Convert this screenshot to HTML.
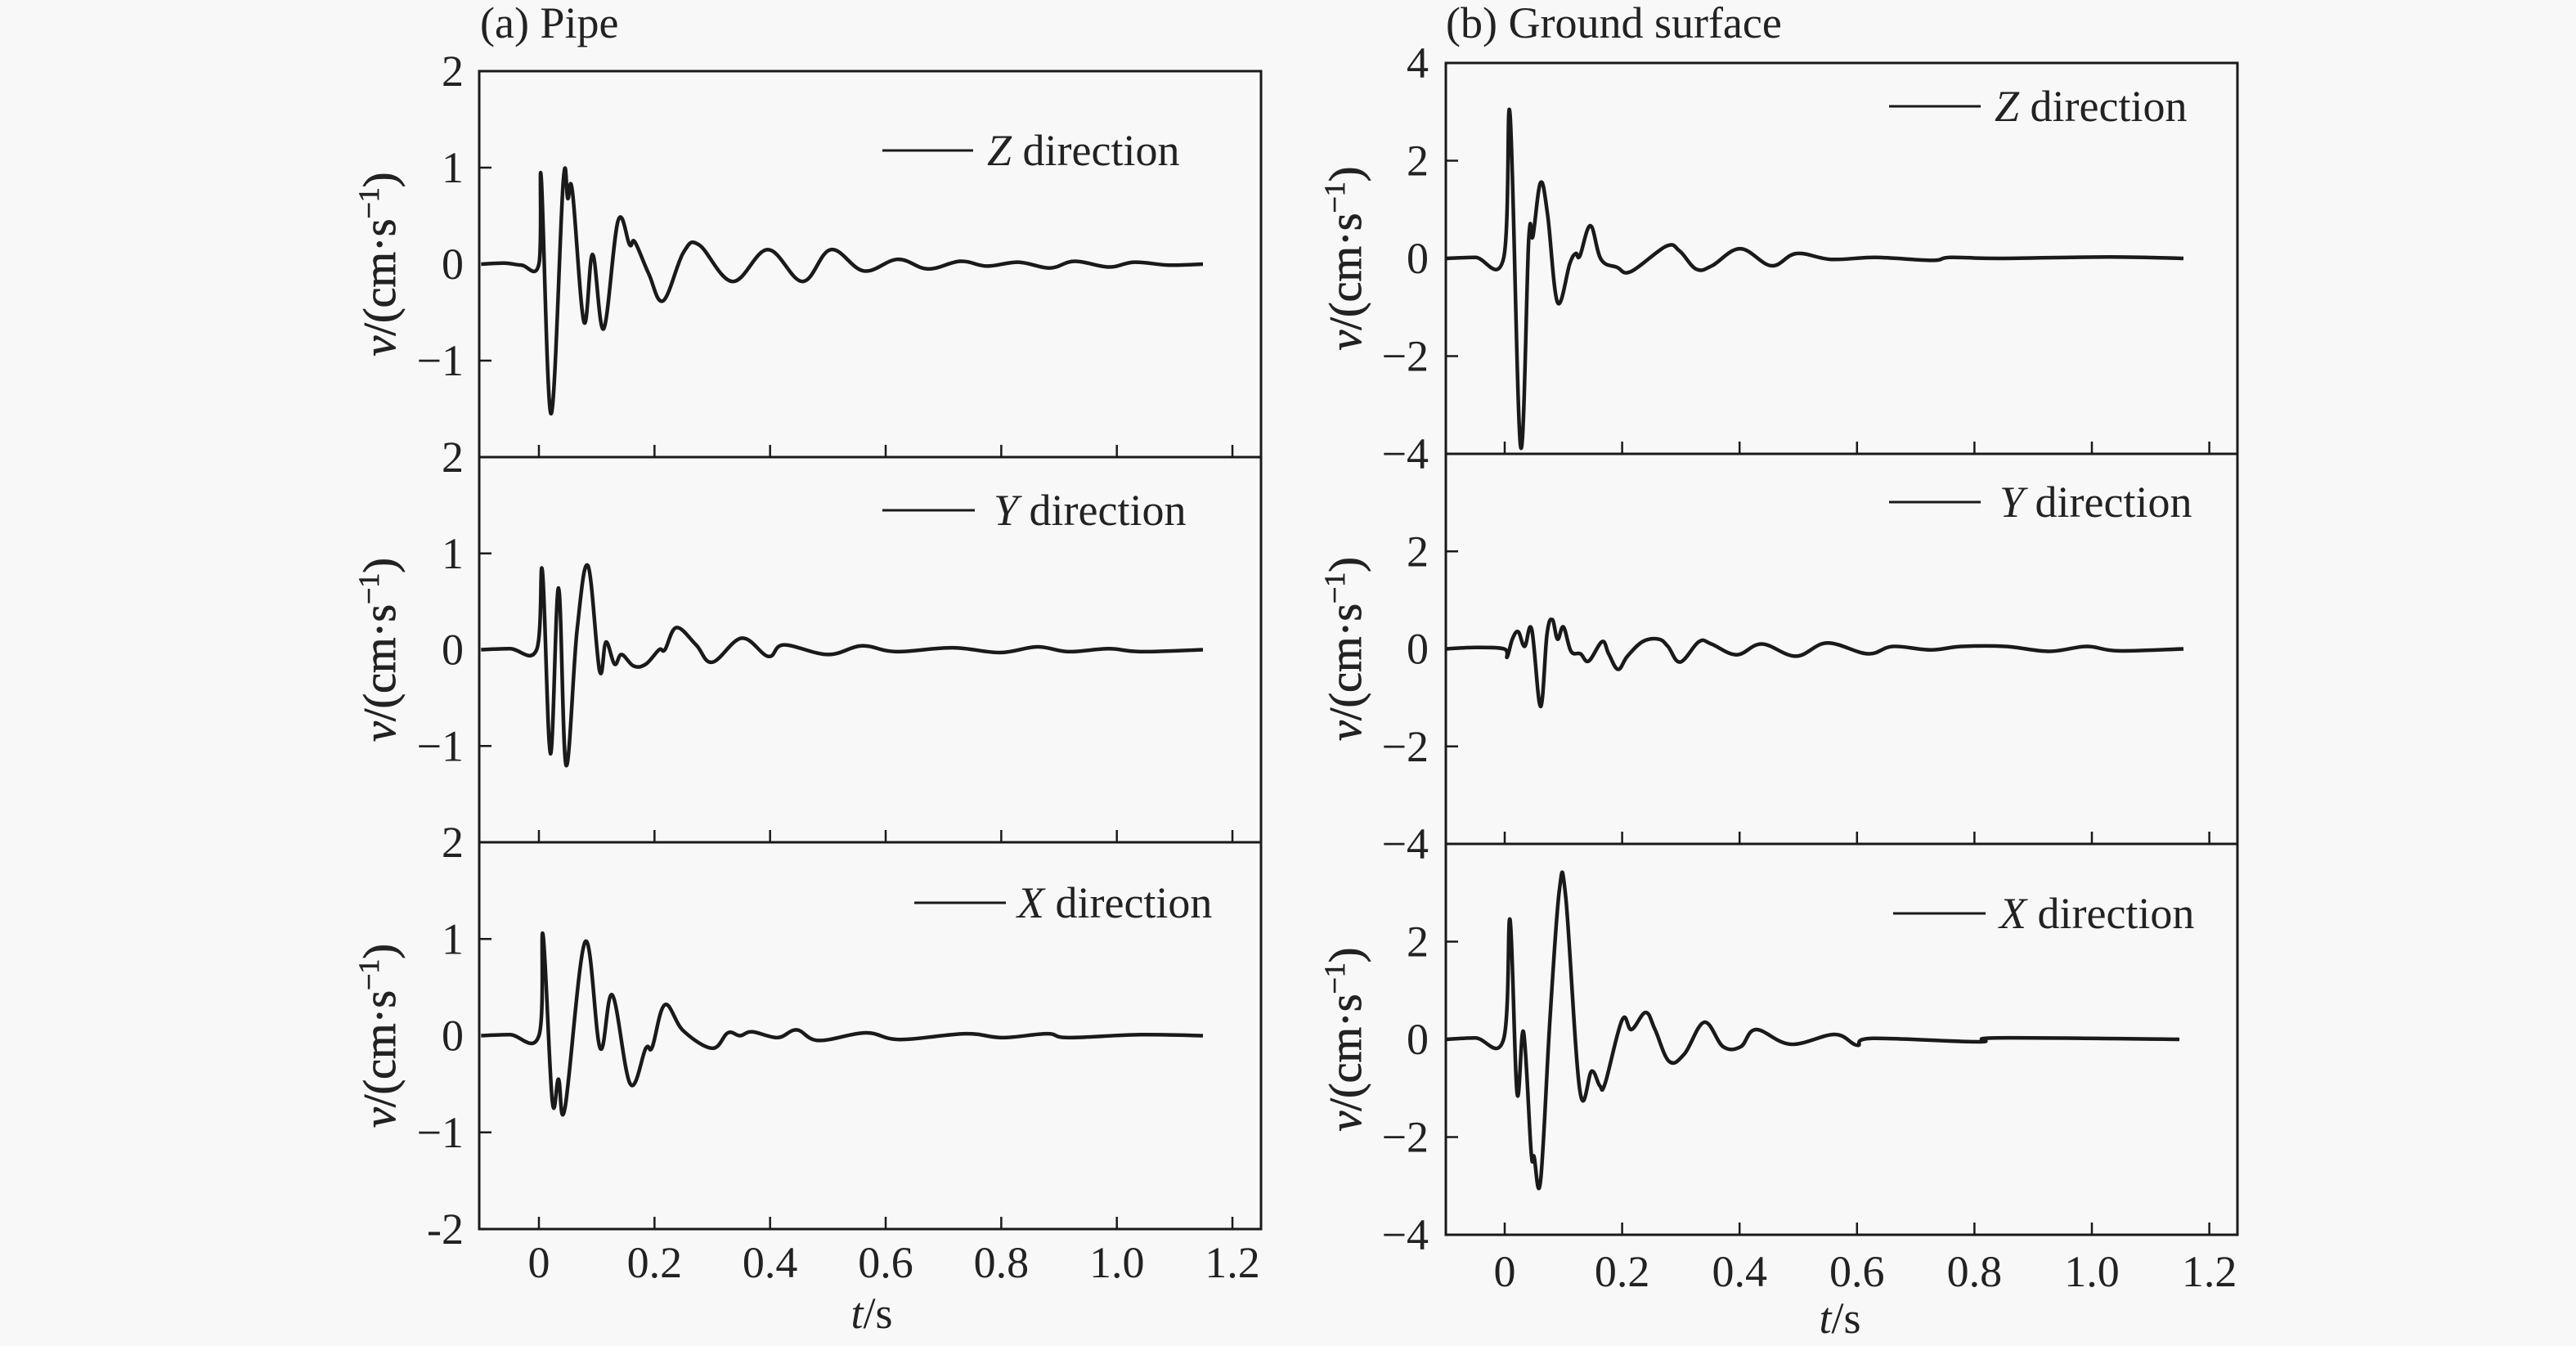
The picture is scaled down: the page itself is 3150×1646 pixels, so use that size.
<!DOCTYPE html>
<html><head><meta charset="utf-8">
<style>
html,body{margin:0;padding:0;background:#f8f8f8;}
svg{display:block;font-family:"Liberation Serif",serif;}
</style></head>
<body>
<svg id="chart" width="3150" height="1646" viewBox="0 0 3150 1646" xmlns="http://www.w3.org/2000/svg">
<rect x="0" y="0" width="3150" height="1646" fill="#f8f8f8"/>
</svg>
<script>
// ---- data (t in s, v in cm/s) ----
const xTicks = [0, 0.2, 0.4, 0.6, 0.8, 1.0, 1.2];
const xTickLabels = ["0", "0.2", "0.4", "0.6", "0.8", "1.0", "1.2"];
const pipeYTicks = [1, 0, -1];
const pipeYTickLabels = ["1", "0", "\u22121"];
const pipeEdgeLabels = ["2", "2", "2", "-2"];
const groundYTicks = [2, 0, -2];
const groundYTickLabels = ["2", "0", "\u22122"];
const groundEdgeLabels = ["4", "\u22124", "\u22124", "\u22124"];

const pipeZ_t = [-0.1,-0.06,-0.03,0.0,0.004,0.021,0.042,0.05,0.058,0.078,0.093,0.112,0.137,0.157,0.166,0.19,0.215,0.25,0.277,0.335,0.396,0.456,0.505,0.562,0.621,0.673,0.729,0.775,0.83,0.884,0.927,0.986,1.03,1.09,1.149];
const pipeZ_v = [0,0.01,-0.01,0,0.9,-1.55,0.85,0.68,0.75,-0.6,0.1,-0.67,0.45,0.2,0.23,-0.1,-0.38,0.12,0.2,-0.18,0.15,-0.18,0.15,-0.07,0.05,-0.05,0.03,-0.02,0.02,-0.04,0.03,-0.03,0.02,-0.01,0];

const pipeY_t = [-0.1,-0.05,-0.004,0.006,0.02,0.034,0.047,0.066,0.085,0.105,0.116,0.131,0.143,0.164,0.185,0.208,0.218,0.238,0.272,0.3,0.351,0.397,0.424,0.5,0.559,0.618,0.716,0.798,0.862,0.916,0.986,1.04,1.149];
const pipeY_v = [0,0.01,0,0.82,-1.08,0.64,-1.2,0.2,0.87,-0.22,0.08,-0.15,-0.05,-0.17,-0.15,0,0,0.23,0.05,-0.13,0.12,-0.07,0.05,-0.05,0.04,-0.02,0.02,-0.03,0.03,-0.02,0.01,-0.02,0];

const pipeX_t = [-0.1,-0.05,0.0,0.007,0.023,0.034,0.045,0.08,0.106,0.127,0.158,0.185,0.196,0.218,0.25,0.3,0.327,0.348,0.369,0.413,0.446,0.484,0.565,0.624,0.737,0.802,0.879,0.916,1.04,1.149];
const pipeX_v = [0,0.01,0,1.05,-0.67,-0.45,-0.75,0.97,-0.13,0.42,-0.5,-0.13,-0.12,0.32,0.05,-0.13,0.03,0,0.04,-0.02,0.06,-0.05,0.03,-0.04,0.02,-0.02,0.02,-0.02,0.01,0];

const groundZ_t = [-0.1,-0.05,-0.002,0.009,0.027,0.041,0.048,0.061,0.073,0.09,0.111,0.121,0.128,0.146,0.164,0.191,0.215,0.275,0.298,0.326,0.353,0.401,0.454,0.497,0.556,0.631,0.727,0.759,0.844,1.03,1.156];
const groundZ_v = [0,0.02,0,2.95,-3.85,0.4,0.45,1.55,0.9,-0.9,-0.1,0.1,0.05,0.67,-0.02,-0.18,-0.27,0.25,0.15,-0.22,-0.15,0.2,-0.15,0.1,-0.02,0.02,-0.04,0.02,0,0.03,0];

const groundY_t = [-0.1,-0.05,-0.001,0.004,0.013,0.023,0.034,0.046,0.061,0.072,0.081,0.09,0.1,0.113,0.129,0.143,0.166,0.177,0.193,0.209,0.235,0.262,0.278,0.299,0.331,0.352,0.395,0.438,0.496,0.549,0.618,0.661,0.725,0.778,0.853,0.927,0.991,1.044,1.156];
const groundY_v = [0,0.03,0,-0.17,0.2,0.35,0.05,0.4,-1.18,0.3,0.6,0.2,0.45,-0.05,-0.1,-0.25,0.15,-0.1,-0.42,-0.15,0.15,0.2,0.05,-0.27,0.15,0.1,-0.12,0.1,-0.15,0.12,-0.1,0.05,-0.02,0.05,0.05,-0.05,0.05,-0.04,0];

const groundX_t = [-0.1,-0.05,-0.002,0.009,0.021,0.032,0.045,0.05,0.061,0.077,0.093,0.104,0.128,0.148,0.162,0.171,0.2,0.216,0.24,0.256,0.28,0.306,0.34,0.372,0.402,0.428,0.487,0.562,0.6,0.626,0.807,0.839,1.149];
const groundX_v = [0,0.03,0,2.45,-1.1,0.15,-2.3,-2.4,-2.9,0.4,3.05,2.9,-1.05,-0.65,-0.95,-0.9,0.4,0.2,0.55,0.2,-0.45,-0.3,0.35,-0.15,-0.15,0.2,-0.1,0.1,-0.12,0.02,-0.05,0.03,0];

// ---- layout ----
const NS = "http://www.w3.org/2000/svg";
const svg = document.getElementById('chart');
function mk(tag, attrs, parent){ const e=document.createElementNS(NS,tag); for(const k in attrs) e.setAttribute(k,attrs[k]); (parent||svg).appendChild(e); return e; }
const FS = 54;

function smoothPath(pts){
  let d = 'M'+pts[0][0].toFixed(1)+' '+pts[0][1].toFixed(1);
  const k = 0.18;
  for(let i=0;i<pts.length-1;i++){
    const p0=pts[Math.max(0,i-1)], p1=pts[i], p2=pts[i+1], p3=pts[Math.min(pts.length-1,i+2)];
    const c1x=p1[0]+(p2[0]-p0[0])*k, c1y=p1[1]+(p2[1]-p0[1])*k;
    const c2x=p2[0]-(p3[0]-p1[0])*k, c2y=p2[1]-(p3[1]-p1[1])*k;
    d += ' C'+c1x.toFixed(1)+' '+c1y.toFixed(1)+' '+c2x.toFixed(1)+' '+c2y.toFixed(1)+' '+p2[0].toFixed(1)+' '+p2[1].toFixed(1);
  }
  return d;
}

const cols = [
  {x0:586, x1:1542, tz:659, tpu:706.7, ymax:2, title:"(a) Pipe", titleX:587, yTitleX:465,
   tops:[87,559,1030,1503], ticks:pipeYTicks, tickLabels:pipeYTickLabels, edge:pipeEdgeLabels, tickLblX:567,
   series:[[pipeZ_t,pipeZ_v,"Z",1079,1190,184,1207],[pipeY_t,pipeY_v,"Y",1079,1192,624,1215],[pipeX_t,pipeX_v,"X",1118,1230,1104,1244]],
   xlabY:1562, tsY:1624, tsX:1066, key:"pipe"},
  {x0:1768, x1:2736, tz:1840, tpu:718, ymax:4, title:"(b) Ground surface", titleX:1768, yTitleX:1646,
   tops:[77,555,1032,1510], ticks:groundYTicks, tickLabels:groundYTickLabels, edge:groundEdgeLabels, tickLblX:1747,
   series:[[groundZ_t,groundZ_v,"Z",2310,2422,130,2439],[groundY_t,groundY_v,"Y",2310,2422,614,2445],[groundX_t,groundX_v,"X",2315,2428,1117,2445]],
   xlabY:1573, tsY:1630, tsX:2250, key:"ground"}
];
const dirNames = ["z","y","x"];

cols.forEach(c=>{
  const g = mk('g',{});
  
  
  const tt = mk('text',{x:c.titleX,y:46,'font-size':FS,fill:'#222'},g);
  tt.textContent = c.title;
  
  
  const xS = t => c.tz + t*c.tpu;
  c.tops.forEach((y,i)=>{
    const lb = mk('text',{x:c.tickLblX,y:y+18,'font-size':FS,'text-anchor':'end',fill:'#222'},g);
    lb.textContent = c.edge[i];
    
    
  });
  for(let p=0;p<3;p++){
    const top=c.tops[p], bot=c.tops[p+1], h=bot-top;
    const zero=(top+bot)/2;
    const yS = v => zero - v*(h/2)/c.ymax;
    const pg = mk('g',{},g);
    
    
    const fr = mk('rect',{x:c.x0,y:top,width:c.x1-c.x0,height:h,fill:'none',stroke:'#1a1a1a','stroke-width':3},pg);
    
    
    xTicks.forEach(t=>{
      const tk = mk('line',{x1:xS(t),x2:xS(t),y1:bot,y2:bot-15,stroke:'#1a1a1a','stroke-width':2.5},pg);
      
      
    });
    c.ticks.forEach((v,i)=>{
      if(v!==0){
        const tk = mk('line',{x1:c.x0,x2:c.x0+15,y1:yS(v),y2:yS(v),stroke:'#1a1a1a','stroke-width':2.5},pg);
        
        
      }
      const lb = mk('text',{x:c.tickLblX,y:yS(v)+18,'font-size':FS,'text-anchor':'end',fill:'#222'},pg);
      lb.textContent = c.tickLabels[i];
      
      
    });
    const yt = mk('text',{x:0,y:0,'font-size':56,'text-anchor':'middle',fill:'#222',stroke:'#222','stroke-width':0.8,transform:`translate(${c.yTitleX+18},${zero}) rotate(-90)`},pg);
    yt.innerHTML = '<tspan font-style="italic">v</tspan>/(cm\u00b7s<tspan dy="-20" font-size="36">\u22121</tspan><tspan dy="20">)</tspan>';
    
    
    const s = c.series[p];
    const ts=s[0], vs=s[1];
    const pts = ts.map((t,i)=>[xS(t), yS(vs[i])]);
    const path = mk('path',{d:smoothPath(pts),fill:'none',stroke:'#1a1a1a','stroke-width':4.5,'stroke-linejoin':'round'},pg);
    
    
    const lg = mk('g',{},pg);
    
    
    mk('line',{x1:s[3],x2:s[4],y1:s[5],y2:s[5],stroke:'#1a1a1a','stroke-width':3},lg);
    const lt = mk('text',{x:s[6],y:s[5]+18,'font-size':FS,fill:'#222'},lg);
    lt.innerHTML = '<tspan font-style="italic">'+s[2]+'</tspan> direction';
  }
  xTicks.forEach((t,i)=>{
    const lb = mk('text',{x:xS(t),y:c.xlabY,'font-size':FS,'text-anchor':'middle',fill:'#222'},g);
    lb.textContent = xTickLabels[i];
    
    
  });
  const xt = mk('text',{x:c.tsX,y:c.tsY,'font-size':FS,'text-anchor':'middle',fill:'#222'},g);
  xt.innerHTML = '<tspan font-style="italic">t</tspan>/s';
  
  
});
</script>
</body></html>
